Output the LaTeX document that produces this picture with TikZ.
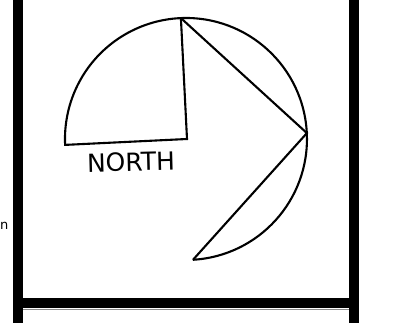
\documentclass[tikz,border=0pt]{standalone}
\usepackage{fontspec}
\setmainfont{DejaVu Sans}
\begin{document}
\begin{tikzpicture}[x=1pt,y=1pt,
  ink/.style={line width=2.1pt,line join=miter},
  bar/.style={fill=black,draw=none},
  lbl/.style={font=\fontsize{25}{25}\selectfont,inner sep=0pt}]
\useasboundingbox (0,0) rectangle (415,323);
% panel frame
\fill[bar] (13,0) rectangle (23,323);
\fill[bar] (349,0) rectangle (359,323);
\fill[bar] (13,15) rectangle (359,25);
\draw[black!45,line width=0.8pt] (23,14) -- (349,14);
% geometry
\coordinate (ctr) at (186,184);
\coordinate (top) at (180.9,304.9);
\coordinate (corner) at (187,184);
\coordinate (rightpt) at (306.9,189.9);
\coordinate (bot) at (193,63.2);
% quarter sector
\draw[ink] (top) arc[start angle=92.4,end angle=182.8,radius=121] -- (corner) -- cycle;
% right arc with chords
\draw[ink] (top) arc[start angle=92.4,end angle=-86.7,radius=121];
\draw[ink] (top) -- (rightpt) -- (bot);
% labels
\node[lbl,rotate=1.5] (north) at (131,161) {NORTH};
\node[font=\fontsize{13}{13}\selectfont,inner sep=0pt,anchor=base west] (cut) at (0,93) {n};
\end{tikzpicture}
\end{document}
